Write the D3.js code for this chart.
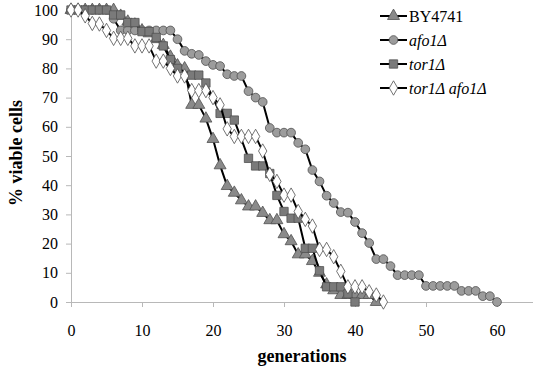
<!DOCTYPE html>
<html lang="en">
<head>
    <meta charset="UTF-8">
    <script src="https://d3js.org/d3.v7.min.js"></script>
    <title>Replicative lifespan</title>
    <style>
        body { margin: 0; background: white; }
        svg text { font-family: "Times New Roman", "Liberation Serif", "DejaVu Serif", serif !important; fill: black; }
        .tick text { font-size: 16px; }
        .tick line, .domain { stroke: #b8b8b8; }
        text.title { font-size: 18px; font-weight: bold; }
        text.leg { font-size: 16px; }
    </style>
</head>
<body>
<svg height="373" width="538"></svg>
<script>
    const width = 538, height = 373;
    const serif = '"Times New Roman", "Liberation Serif", "DejaVu Serif", serif';

    // generations + % viable cells per strain
    const byGen = [0,1,2,3,4,5,6,7,8,9,10,11,12,13,14,15,16,17,18,19,20,21,22,23,24,25,26,27,28,29,30,31,32,33,34,35,36,37,38,39,40,41,42,43];
    const byVal = [100,100,100,100,100,100,100,98,96,95,93,92,90,88,84,81,80,67.5,67.5,62.8,55.8,46.8,39.7,37.4,34.8,32.7,32.7,30.5,28,28,23.2,20.8,16.3,16.3,14,10,6,4,2.4,2.4,2.4,2.4,2.4,0];

    const afoGen = [0,1,2,3,4,5,6,7,8,9,10,11,12,13,14,15,16,17,18,19,20,21,22,23,24,25,26,27,28,29,30,31,32,33,34,35,36,37,38,39,40,41,42,43,44,45,46,47,48,49,50,51,52,53,54,55,56,57,58,59,60];
    const afoVal = [100,100,100,100,100,100,97,93,93,93,93,93,93,93,93,90,86,85,84.6,82.5,81.2,80.8,78,77.4,77.4,72.2,70,68.5,59.6,58,58,58,54.5,52.3,45.2,41.3,36.4,33.9,30.8,30.6,27.4,23.6,20.2,14.7,14.7,12.3,9.2,9.2,9.2,9.2,5.5,5.5,5.5,5.5,5.5,3.8,3.8,3.8,2,2,0];

    const torGen = [0,1,2,3,4,5,6,7,8,9,10,11,12,13,14,15,17,18,19,21,22,23,25,26,27,28,29,30,31,32,33,34,35,36,37,38,39,40];
    const torVal = [100,100,100,100,100,100,98.3,98.3,95.7,95.7,92.6,92.6,90.6,87.7,83,80,77.7,77.7,75,64.6,64.6,62.3,49.2,46.6,46.6,44,36.5,31,28.7,28.7,18.4,18.4,10.7,5.2,5.2,5.2,2.8,0];

    const dblGen = [0,1,2,3,4,5,6,7,8,9,10,11,12,13,14,15,16,17,18,19,20,21,22,23,24,25,26,27,28,29,30,31,32,33,34,35,36,37,38,39,40,41,42,43,44];
    const dblVal = [100,100,98,95.4,95.2,93,90.3,90.3,90.3,87.7,87.7,87.7,82.5,82.5,80,77.4,77.4,72.4,72.4,72.4,70,67.5,59.3,56.7,56.7,56.7,56.7,51.7,43.7,41.3,36.6,36.6,31,28.3,26,18,18,15.5,10.5,5.2,5.2,5.2,3.5,2.4,0];

    const strains = ["BY4741", "afo1Δ", "tor1Δ", "tor1Δ afo1Δ"];
    const xTicks = [0,10,20,30,40,50,60];
    const yTicks = [0,10,20,30,40,50,60,70,80,90,100];

    const series = [
        {name: strains[0], gen: byGen, val: byVal, shape: d3.symbolTriangle, size: 62, fill: "#8a8a8a", italic: false},
        {name: strains[1], gen: afoGen, val: afoVal, shape: d3.symbolCircle, size: 60, fill: "#9c9c9c", italic: true},
        {name: strains[2], gen: torGen, val: torVal, shape: d3.symbolSquare, size: 70, fill: "#7a7a7a", italic: true},
        {name: strains[3], gen: dblGen, val: dblVal, shape: d3.symbolDiamond, size: 60, fill: "#ffffff", italic: true}
    ];

    const x = d3.scaleLinear().domain([0, 65]).range([71, 532.5]);
    const y = d3.scaleLinear().domain([0, 100]).range([302, 10]);

    const svg = d3.select("svg").style("font-family", serif);

    svg.append("g").attr("transform", "translate(0,302)")
        .call(d3.axisBottom(x).tickValues(xTicks).tickSize(5).tickPadding(18).tickSizeOuter(0))
        .attr("font-family", serif).attr("font-size", 16);
    svg.append("g").attr("transform", "translate(71,0)")
        .call(d3.axisLeft(y).tickValues(yTicks).tickSize(5).tickPadding(8).tickSizeOuter(0))
        .attr("font-family", serif).attr("font-size", 16);

    const line = d3.line().x(d => x(d[0])).y(d => y(d[1]));

    series.forEach(s => {
        const pts = s.gen.map((g, i) => [g, s.val[i]]);
        const g = svg.append("g");
        g.append("path").datum(pts)
            .attr("d", line).attr("fill", "none")
            .attr("stroke", "black").attr("stroke-width", 2);
        const sym = d3.symbol().type(s.shape).size(s.size);
        g.selectAll("path.pt").data(pts).enter().append("path").attr("class", "pt")
            .attr("d", sym)
            .attr("transform", d => `translate(${x(d[0])},${y(d[1])})`)
            .attr("fill", s.fill).attr("stroke", "#505050").attr("stroke-width", 0.8);
    });

    // legend
    const leg = svg.append("g").attr("transform", "translate(380,16)");
    series.forEach((s, i) => {
        const row = leg.append("g").attr("transform", `translate(0,${i * 24})`);
        row.append("line").attr("x1", 0).attr("x2", 27).attr("y1", 0).attr("y2", 0)
            .attr("stroke", "black").attr("stroke-width", 2);
        row.append("path").attr("d", d3.symbol().type(s.shape).size(s.size))
            .attr("transform", "translate(13.5,0)")
            .attr("fill", s.fill).attr("stroke", "#505050").attr("stroke-width", 0.8);
        row.append("text").attr("class", "leg")
            .attr("x", 29).attr("y", 5.5)
            .style("font-style", s.italic ? "italic" : "normal")
            .text(s.name);
    });

    svg.append("text").attr("class", "title")
        .attr("x", 302).attr("y", 362).attr("text-anchor", "middle")
        .text("generations");
    svg.append("text").attr("class", "title")
        .attr("transform", "translate(22,153) rotate(-90)").attr("text-anchor", "middle")
        .text("% viable cells");
</script>
</body>
</html>
